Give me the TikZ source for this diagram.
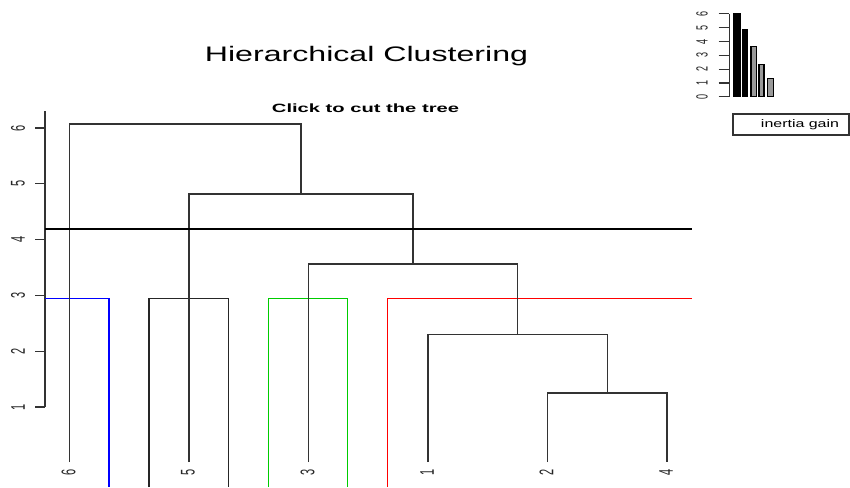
\documentclass[tikz,border=0pt]{standalone}
\usepackage{fontspec}
\setmainfont{Liberation Sans}
\newcommand\hstretch[2]{\scalebox{#1}[1]{#2}}
\newcommand\vstretch[2]{\scalebox{1}[#1]{#2}}
\begin{document}
\begin{tikzpicture}[x=1pt,y=-1pt,
  dendro/.style={draw=black!80, line width=1.4pt},
  axisline/.style={draw=black!80, line width=1.2pt},
  cutline/.style={draw=black, line width=2.6pt},
  ticklab/.style={font=\fontsize{11}{11}\selectfont, rotate=90, inner sep=0pt, text=black!85},
  smalllab/.style={font=\fontsize{9}{9}\selectfont, rotate=90, inner sep=0pt, text=black!85},
  grp/.style={line width=1.3pt},
  bar/.style={draw=black, line width=1.2pt}]
\useasboundingbox (0,0) rectangle (850,487);

% titles
\node[anchor=base, inner sep=0pt] (title) at (366.5,62) {\hstretch{1.53}{\fontsize{21}{21}\selectfont Hierarchical Clustering}};
\node[anchor=base, inner sep=0pt] (sub) at (365.5,112) {\hstretch{1.68}{\fontsize{12}{12}\selectfont\bfseries Click to cut the tree}};

% y axis
\draw[axisline] (45,111) -- (45,407);
\foreach \v/\yy in {1/407,2/351.2,3/295.4,4/239.6,5/183.8,6/128} {
  \draw[axisline] (35,\yy) -- (45,\yy);
  \node[ticklab] (yl\v) at (18,\yy) {\vstretch{1.8}{\v}};
}

% coloured groups (cut boxes)
\draw[grp, blue] (45,298.5) -- (109,298.5) -- (109,487);
\draw[grp, black!85] (149,487) -- (149,298.5) -- (228.5,298.5) -- (228.5,487);
\draw[grp, green!80!black] (268.7,487) -- (268.7,298.5) -- (347.4,298.5) -- (347.4,487);
\draw[grp, red] (387.5,487) -- (387.5,298.5) -- (692,298.5);

% leaves
\coordinate (L6) at (69.5,462);
\coordinate (L5) at (189,462);
\coordinate (L3) at (308.5,462);
\coordinate (L1) at (428,462);
\coordinate (L2) at (547.5,462);
\coordinate (L4) at (667,462);
\foreach \n in {6,5,3,1,2,4} {
  \node[ticklab] (t\n) at ([xshift=-1pt,yshift=-10pt]L\n) {\vstretch{1.8}{\n}};
}

% merges
\coordinate (A24) at (607.25,393);
\coordinate (A124) at (517.6,334.5);
\coordinate (A3) at (413,264);
\coordinate (A5) at (301,194);
\coordinate (A6) at (185,124);
\draw[dendro] (L2) |- (A24) -| (L4);
\draw[dendro] (L1) |- (A124) -| (A24);
\draw[dendro] (L3) |- (A3) -| (A124);
\draw[dendro] (L5) |- (A5) -| (A3);
\draw[dendro] (L6) |- (A6) -| (A5);

% cut line
\draw[cutline] (45,229) -- (692,229);

% inset bar chart
\draw[axisline] (729.3,14) -- (729.3,96.7);
\foreach \k in {0,...,6} {
  \draw[axisline] (718.5,96.7-13.8*\k) -- (729.3,96.7-13.8*\k);
  \node[smalllab] (il\k) at (702,96.7-13.8*\k) {\vstretch{1.8}{\k}};
}
\draw[bar, fill=black] (733.3,96.7) rectangle (740,13.3);
\draw[bar, fill=black] (742.7,96.7) rectangle (747.7,29.3);
\draw[bar, fill=black!40] (751,96.7) rectangle (756.3,46.7);
\draw[bar, fill=black!40] (759,96.7) rectangle (764,64.3);
\draw[bar, fill=black!40] (767.7,96.7) rectangle (773.3,78.7);

% legend
\draw[draw=black!80, line width=1.2pt] (733,114) rectangle (849,135);
\node[inner sep=0pt] (leg) at (800,125) {\hstretch{1.45}{\fontsize{11}{11}\selectfont inertia gain}};
\end{tikzpicture}
\end{document}
